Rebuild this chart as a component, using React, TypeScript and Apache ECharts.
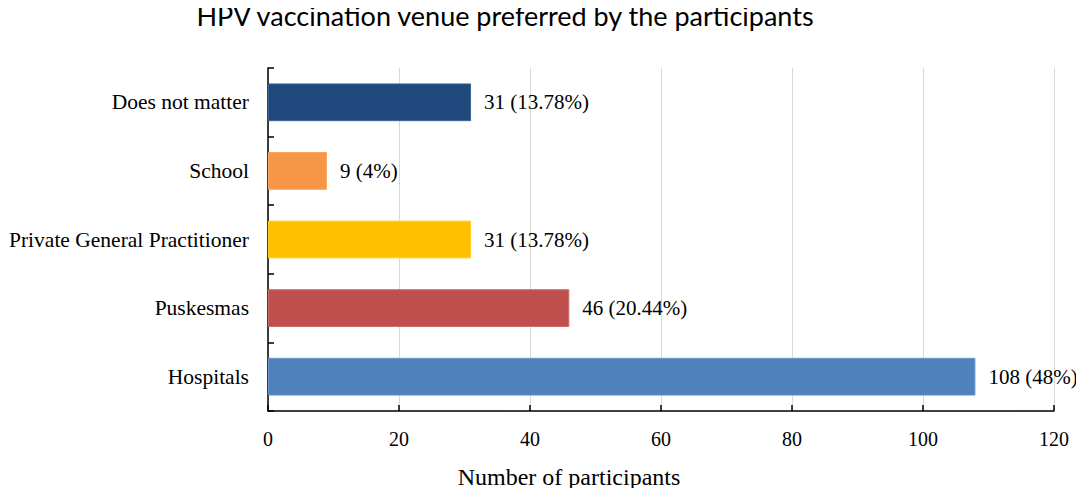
import React, { useEffect, useRef } from "react";
import * as echarts from "echarts";

const categories = ["Hospitals", "Puskesmas", "Private General Practitioner", "School", "Does not matter"];
const counts = [108, 46, 31, 9, 31];
const percents = ["48%", "20.44%", "13.78%", "4%", "13.78%"];
const colors = ["#4F81BD", "#C0504D", "#FFC000", "#F79646", "#1F497D"];
const xTicks = { min: 0, max: 120, interval: 20 };

const serif = "'Liberation Serif', 'Times New Roman', serif";

export default function App() {
  const ref = useRef<HTMLDivElement>(null);
  useEffect(() => {
    const chart = echarts.init(ref.current!, null, { renderer: "svg" });
    chart.setOption({
      animation: false,
      backgroundColor: "#ffffff",
      title: {
        text: "HPV vaccination venue preferred by the participants",
        left: 500,
        textAlign: "center",
        top: 0,
        padding: [2, 5, 5, 5],
        textStyle: { fontFamily: "Lato, 'Open Sans', sans-serif", fontWeight: "normal", fontSize: 27, color: "#000" },
      },
      grid: { left: 268, right: 30, top: 68, bottom: 85, containLabel: false },
      xAxis: {
        type: "value",
        min: xTicks.min,
        max: xTicks.max,
        interval: xTicks.interval,
        name: "Number of participants",
        nameLocation: "middle",
        nameGap: 54,
        nameTextStyle: { fontFamily: serif, fontSize: 24, color: "#000", padding: [0, 184, 0, 0] },
        axisLine: { show: true, lineStyle: { color: "#000", width: 1.5 } },
        axisTick: { show: true, inside: true, length: 6, lineStyle: { color: "#000", width: 1.5 } },
        axisLabel: { fontFamily: serif, fontSize: 20, color: "#000", margin: 18 },
        splitLine: { show: true, lineStyle: { color: "#D9D9D9", width: 1 } },
      },
      yAxis: {
        type: "category",
        data: categories,
        axisLine: { show: true, lineStyle: { color: "#000", width: 1.5 } },
        axisTick: { show: true, inside: true, length: 6, lineStyle: { color: "#000", width: 1.5 } },
        axisLabel: { fontFamily: serif, fontSize: 21.5, color: "#000", margin: 19 },
        splitLine: { show: false },
      },
      series: [
        {
          type: "bar",
          data: counts.map((v, i) => ({
            value: v,
            itemStyle: { color: colors[i], borderColor: echarts.color.lift(colors[i], 0.15), borderWidth: 1 },
          })),
          barCategoryGap: "45%",
          label: {
            show: true,
            position: "right",
            distance: 13,
            fontFamily: serif,
            fontSize: 21,
            color: "#000",
            formatter: (p: any) => `${counts[p.dataIndex]} (${percents[p.dataIndex]})`,
          },
        },
      ],
    });
    return () => chart.dispose();
  }, []);
  return <div ref={ref} style={{ width: 1084, height: 496, margin: -8 }} />;
}
